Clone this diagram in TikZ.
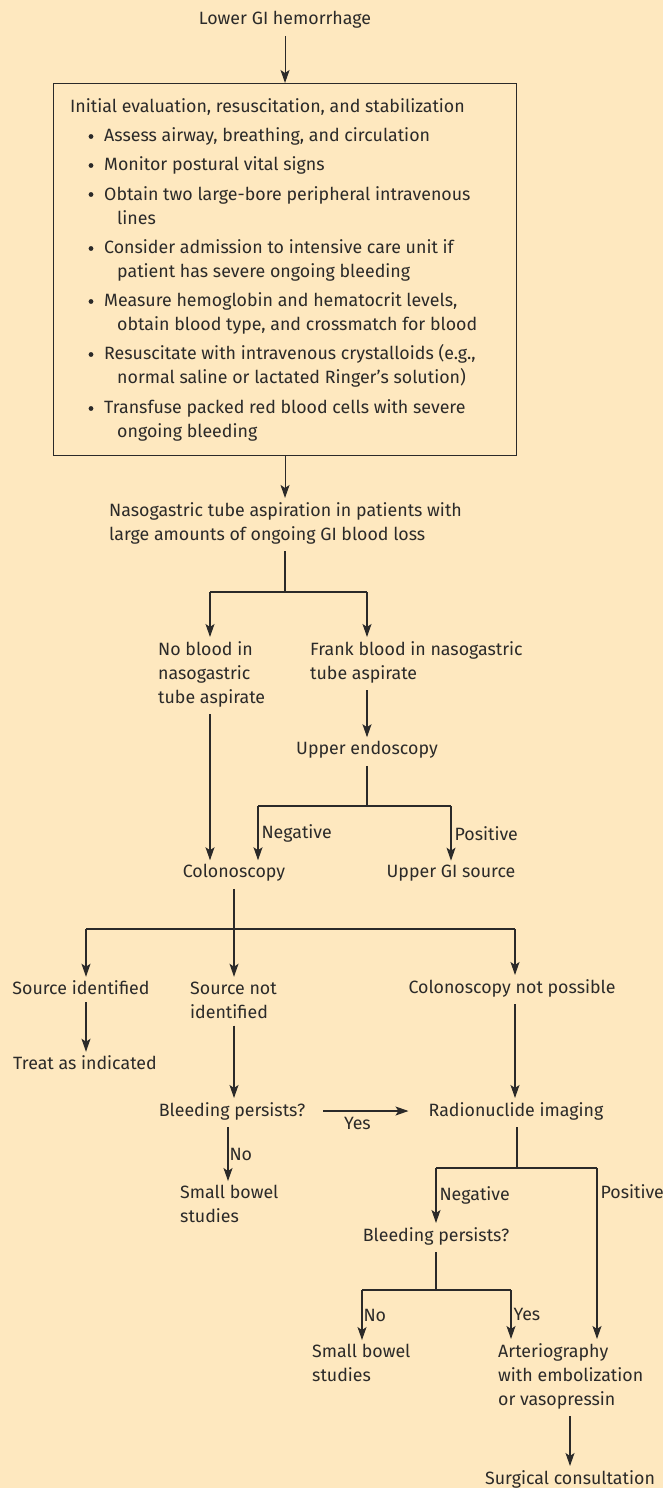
\documentclass[tikz,border=0pt]{standalone}
\usepackage{fontspec}
\setmainfont{Fira Sans}
\usetikzlibrary{arrows.meta}
\definecolor{bg}{HTML}{FEE8BF}
\definecolor{ink}{HTML}{2B2A29}
\begin{document}
\begin{tikzpicture}[x=1pt,y=-1pt,
  txt/.style={font=\fontsize{17.8}{24}\selectfont, text=ink, inner xsep=0pt, inner ysep=4pt, align=left},
  dot/.style={circle, fill=ink, inner sep=0pt, minimum size=4.8pt},
  arr/.style={draw=ink, line width=1.05pt, -{Stealth[length=13pt,width=9pt,inset=3pt]}},
  ln/.style={draw=ink, line width=1.05pt}]
\fill[bg] (0,0) rectangle (663,1488);
\useasboundingbox (0,0) rectangle (663,1488);

% top
\node[txt] (lower) at (285,20) {Lower GI hemorrhage};
\node[draw=ink, line width=1.05pt, minimum width=463pt, minimum height=372pt, anchor=north west, inner sep=0pt] (box) at (53,83) {};
\node[txt, anchor=west] (title) at (70,107) {Initial evaluation, resuscitation, and stabilization};
\node[dot] (u1) at (91,136.5) {};
\node[dot] (u2) at (91,165.5) {};
\node[dot] (u3) at (91,194.5) {};
\node[dot] (u4) at (91,248.5) {};
\node[dot] (u5) at (91,301.5) {};
\node[dot] (u6) at (91,354.5) {};
\node[dot] (u7) at (91,408.5) {};
\node[txt, anchor=west] (i1) at (104,136) {Assess airway, breathing, and circulation};
\node[txt, anchor=west] (i2) at (104,165) {Monitor postural vital signs};
\node[txt, anchor=west] (i3) at (104,206) {Obtain two large-bore peripheral intravenous\\\hspace*{13pt}lines};
\node[txt, anchor=west] (i4) at (104,260) {Consider admission to intensive care unit if\\\hspace*{13pt}patient has severe ongoing bleeding};
\node[txt, anchor=west] (i5) at (104,313) {Measure hemoglobin and hematocrit levels,\\\hspace*{13pt}obtain blood type, and crossmatch for blood};
\node[txt, anchor=west] (i6) at (104,366) {Resuscitate with intravenous crystalloids (e.g.,\\\hspace*{13pt}normal saline or lactated Ringer’s solution)};
\node[txt, anchor=west] (i7) at (104,420) {Transfuse packed red blood cells with severe\\\hspace*{13pt}ongoing bleeding};

\node[txt, anchor=west] (naso) at (109,523) {Nasogastric tube aspiration in patients with\\large amounts of ongoing GI blood loss};
\node[txt, anchor=west] (noblood) at (158,674) {No blood in\\nasogastric\\tube aspirate};
\node[txt, anchor=west] (frank) at (310,662) {Frank blood in nasogastric\\tube aspirate};
\node[txt] (uendo) at (367,750) {Upper endoscopy};
\node[txt] (colon) at (234,873) {Colonoscopy};
\node[txt] (ugi) at (451,873) {Upper GI source};
\node[txt] (srcid) at (81,988) {Source identified};
\node[txt, anchor=west] (srcnot) at (190,1000) {Source not\\identified};
\node[txt] (cnp) at (512,988) {Colonoscopy not possible};
\node[txt] (treat) at (85,1063) {Treat as indicated};
\node[txt] (bleed1) at (232,1111) {Bleeding persists?};
\node[txt] (radio) at (516,1111) {Radionuclide imaging};
\node[txt, anchor=west] (small1) at (180,1204) {Small bowel\\studies};
\node[txt] (bleed2) at (436,1236) {Bleeding persists?};
\node[txt, anchor=west] (small2) at (312,1363) {Small bowel\\studies};
\node[txt, anchor=west] (arterio) at (498,1376) {Arteriography\\with embolization\\or vasopressin};
\node[txt] (surg) at (570,1479) {Surgical consultation};

% junction coordinates
\coordinate (j1) at (285,592);
\coordinate (j1l) at (210,592);
\coordinate (j1r) at (367,592);
\coordinate (j2) at (367,806);
\coordinate (j2l) at (258,806);
\coordinate (j2r) at (451,806);
\coordinate (j3) at (234,929);
\coordinate (j3l) at (86,929);
\coordinate (j3r) at (515,929);
\coordinate (j4) at (517,1168);
\coordinate (j4l) at (436,1168);
\coordinate (j4r) at (597,1168);
\coordinate (j5) at (436,1290);
\coordinate (j5l) at (362,1290);
\coordinate (j5r) at (511,1290);

% connectors
\draw[arr] ([yshift=-3pt]lower.south -| box.north) -- (box.north);
\draw[arr] (box.south) -- (box.south |- naso.north);
\draw[ln] ([yshift=-3pt]j1 |- naso.south) -- (j1);
\draw[ln] (j1l) -- (j1r);
\draw[arr] (j1l) -- (j1l |- noblood.north);
\draw[arr] (j1r) -- (j1r |- frank.north);
\draw[arr] ([yshift=-3pt]j1r |- frank.south) -- (j1r |- uendo.north);
\draw[arr] ([yshift=-3pt]j1l |- noblood.south) -- (j1l |- colon.north);
\draw[ln] ([yshift=-3pt]uendo.south) -- (j2);
\draw[ln] (j2l) -- (j2r);
\draw[arr] (j2l) -- (j2l |- colon.north) node[txt, pos=0.5, anchor=west, xshift=3pt] (lneg1) {Negative};
\draw[arr] (j2r) -- (j2r |- ugi.north) node[txt, pos=0.5, anchor=west, xshift=3pt] (lpos1) {Positive};
\draw[ln] ([yshift=-3pt]colon.south) -- (j3);
\draw[ln] (j3l) -- (j3r);
\draw[arr] (j3l) -- (j3l |- srcid.north);
\draw[arr] (j3) -- (j3 |- srcid.north);
\draw[arr] (j3r) -- (j3r |- cnp.north);
\draw[arr] ([yshift=-3pt]j3l |- srcid.south) -- (j3l |- treat.north);
\draw[arr] ([yshift=-3pt]j3 |- srcnot.south) -- (j3 |- bleed1.north);
\draw[arr] ([yshift=-3pt]j3r |- cnp.south) -- (j3r |- radio.north);
\draw[arr] ([xshift=18pt]bleed1.east) -- ([xshift=-20pt]radio.west) node[txt, pos=0.4, below, inner ysep=1pt, yshift=-5pt] (lyes1) {Yes};
\draw[arr] ([xshift=-4pt,yshift=-3pt]bleed1.south) -- ([xshift=-4pt]bleed1.south |- small1.north) node[txt, pos=0.5, anchor=west, xshift=1pt] (lno1) {No};
\draw[ln] ([yshift=-3pt]j4 |- radio.south) -- (j4);
\draw[ln] (j4l) -- (j4r);
\draw[arr] (j4l) -- (j4l |- bleed2.north) node[txt, pos=0.5, anchor=west, xshift=3pt] (lneg2) {Negative};
\draw[arr] (j4r) -- (j4r |- arterio.north) node[txt, pos=0.14, anchor=west, xshift=3pt] (lpos2) {Positive};
\draw[ln] ([yshift=-3pt]bleed2.south) -- (j5);
\draw[ln] (j5l) -- (j5r);
\draw[arr] (j5l) -- (j5l |- small2.north) node[txt, pos=0.5, anchor=west, xshift=1pt] (lno2) {No};
\draw[arr] (j5r) -- (j5r |- arterio.north) node[txt, pos=0.5, anchor=west, xshift=2pt] (lyes2) {Yes};
\draw[arr] ([yshift=-3pt]surg.north |- arterio.south) -- (surg.north);
\end{tikzpicture}
\end{document}
